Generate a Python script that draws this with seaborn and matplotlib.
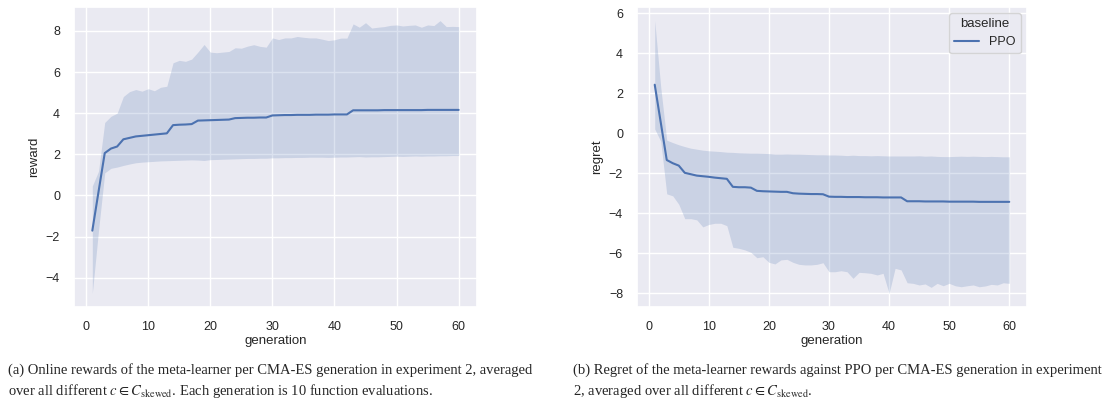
import numpy as np
import pandas as pd
import matplotlib
matplotlib.use("Agg")
import matplotlib.pyplot as plt
import seaborn as sns

generations = list(range(1, 61))

reward_mean = [
    -1.71, 0.18, 2.06, 2.28, 2.38, 2.73, 2.80, 2.87, 2.90, 2.93,
    2.96, 2.99, 3.02, 3.42, 3.44, 3.45, 3.47, 3.64, 3.65, 3.66,
    3.67, 3.68, 3.69, 3.76, 3.77, 3.78, 3.78, 3.79, 3.79, 3.89,
    3.90, 3.91, 3.91, 3.92, 3.92, 3.92, 3.93, 3.93, 3.93, 3.94,
    3.94, 3.94, 4.14, 4.14, 4.14, 4.14, 4.14, 4.15, 4.15, 4.15,
    4.15, 4.15, 4.15, 4.15, 4.16, 4.16, 4.16, 4.16, 4.16, 4.16]
reward_upper = [
    0.46, 1.18, 3.55, 3.85, 4.00, 4.81, 5.05, 5.15, 5.07, 5.19,
    5.09, 5.26, 5.31, 6.45, 6.57, 6.52, 6.63, 6.97, 7.34, 6.97,
    6.94, 6.97, 7.00, 7.18, 7.16, 7.26, 7.33, 7.25, 7.21, 7.66,
    7.58, 7.66, 7.66, 7.73, 7.69, 7.66, 7.66, 7.60, 7.53, 7.57,
    7.65, 7.65, 8.34, 8.18, 8.40, 8.14, 8.18, 8.21, 8.27, 8.29,
    8.24, 8.27, 8.29, 8.18, 8.29, 8.26, 8.50, 8.21, 8.22, 8.21]
reward_lower = [
    -4.76, -1.70, 1.10, 1.32, 1.38, 1.46, 1.53, 1.59, 1.62, 1.64,
    1.66, 1.68, 1.69, 1.70, 1.71, 1.72, 1.73, 1.72, 1.70, 1.74,
    1.75, 1.76, 1.77, 1.78, 1.79, 1.80, 1.80, 1.81, 1.81, 1.83,
    1.83, 1.84, 1.84, 1.85, 1.85, 1.86, 1.86, 1.86, 1.85, 1.86,
    1.87, 1.87, 1.88, 1.89, 1.87, 1.88, 1.88, 1.89, 1.90, 1.91,
    1.90, 1.91, 1.92, 1.91, 1.92, 1.92, 1.93, 1.93, 1.94, 1.94]

regret_mean = [
    2.42, 0.54, -1.34, -1.50, -1.62, -1.98, -2.05, -2.12, -2.15, -2.18,
    -2.22, -2.25, -2.28, -2.68, -2.70, -2.70, -2.72, -2.88, -2.90, -2.91,
    -2.92, -2.93, -2.93, -3.00, -3.02, -3.03, -3.04, -3.04, -3.05, -3.17,
    -3.18, -3.18, -3.19, -3.19, -3.19, -3.20, -3.20, -3.20, -3.21, -3.21,
    -3.21, -3.21, -3.40, -3.40, -3.40, -3.41, -3.41, -3.41, -3.41, -3.42,
    -3.42, -3.42, -3.42, -3.42, -3.43, -3.43, -3.43, -3.43, -3.43, -3.43]
regret_upper = [
    5.62, 2.30, -0.35, -0.47, -0.58, -0.67, -0.75, -0.80, -0.85, -0.88,
    -0.90, -0.92, -0.95, -0.96, -0.98, -0.99, -1.00, -1.00, -1.01, -1.02,
    -1.05, -1.05, -1.04, -1.05, -1.05, -1.06, -1.07, -1.08, -1.08, -1.09,
    -1.09, -1.10, -1.12, -1.10, -1.12, -1.12, -1.13, -1.12, -1.13, -1.14,
    -1.14, -1.14, -1.14, -1.14, -1.13, -1.15, -1.14, -1.16, -1.17, -1.17,
    -1.16, -1.15, -1.16, -1.15, -1.16, -1.17, -1.16, -1.17, -1.18, -1.18]
regret_lower = [
    0.21, -0.40, -3.03, -3.13, -3.55, -4.27, -4.27, -4.33, -4.68, -4.56,
    -4.50, -4.50, -4.62, -5.70, -5.75, -5.83, -5.95, -6.22, -6.17, -6.45,
    -6.53, -6.33, -6.30, -6.45, -6.55, -6.58, -6.58, -6.55, -6.47, -6.92,
    -6.92, -6.87, -6.92, -7.25, -6.95, -6.97, -7.00, -7.08, -7.00, -8.00,
    -6.75, -6.83, -7.47, -7.50, -7.58, -7.53, -7.70, -7.50, -7.62, -7.50,
    -7.62, -7.67, -7.62, -7.58, -7.67, -7.63, -7.55, -7.58, -7.47, -7.50]

baseline_name = "PPO"
caption_a = ("(a) Online rewards of the meta-learner per CMA-ES generation in experiment 2, averaged\n"
             r"over all different $c \in C_{\mathrm{skewed}}$. Each generation is 10 function evaluations.")
caption_b = ("(b) Regret of the meta-learner rewards against PPO per CMA-ES generation in experiment\n"
             r"2, averaged over all different $c \in C_{\mathrm{skewed}}$.")

sns.set_theme(style="darkgrid")
plt.rcParams["font.family"] = ["Liberation Sans", "DejaVu Sans"]
plt.rcParams["mathtext.fontset"] = "stix"

color = sns.color_palette("deep")[0]
W, H = 1102, 401
fig = plt.figure(figsize=(W / 100, H / 100), dpi=100)
ax1 = fig.add_axes([74 / W, (H - 307) / H, 403 / W, 300 / H])
ax2 = fig.add_axes([637 / W, (H - 307) / H, 390 / W, 300 / H])

df_r = pd.DataFrame({"generation": generations, "reward": reward_mean})
df_g = pd.DataFrame({"generation": generations, "regret": regret_mean,
                     "baseline": [baseline_name] * len(generations)})

ax1.fill_between(generations, reward_lower, reward_upper, color=color, alpha=0.2, linewidth=0)
sns.lineplot(data=df_r, x="generation", y="reward", ax=ax1, color=color, linewidth=1.5)

ax2.fill_between(generations, regret_lower, regret_upper, color=color, alpha=0.2, linewidth=0)
sns.lineplot(data=df_g, x="generation", y="regret", hue="baseline", ax=ax2,
             palette=[color], linewidth=1.5)

for ax in (ax1, ax2):
    ax.tick_params(labelsize=9, pad=4)
    ax.xaxis.label.set_size(9.5)
    ax.yaxis.label.set_size(9.5)
    ax.xaxis.labelpad = 1.5
    ax.yaxis.labelpad = 4

leg = ax2.legend(title="baseline", loc="upper right", fontsize=9, title_fontsize=9.5)

fig.text(8 / W, (H - 363) / H, caption_a, family="Liberation Serif", fontsize=10.5,
         ha="left", va="top", linespacing=1.35)
fig.text(573 / W, (H - 363) / H, caption_b, family="Liberation Serif", fontsize=10.5,
         ha="left", va="top", linespacing=1.35)

fig.savefig("out.png", dpi=100)
